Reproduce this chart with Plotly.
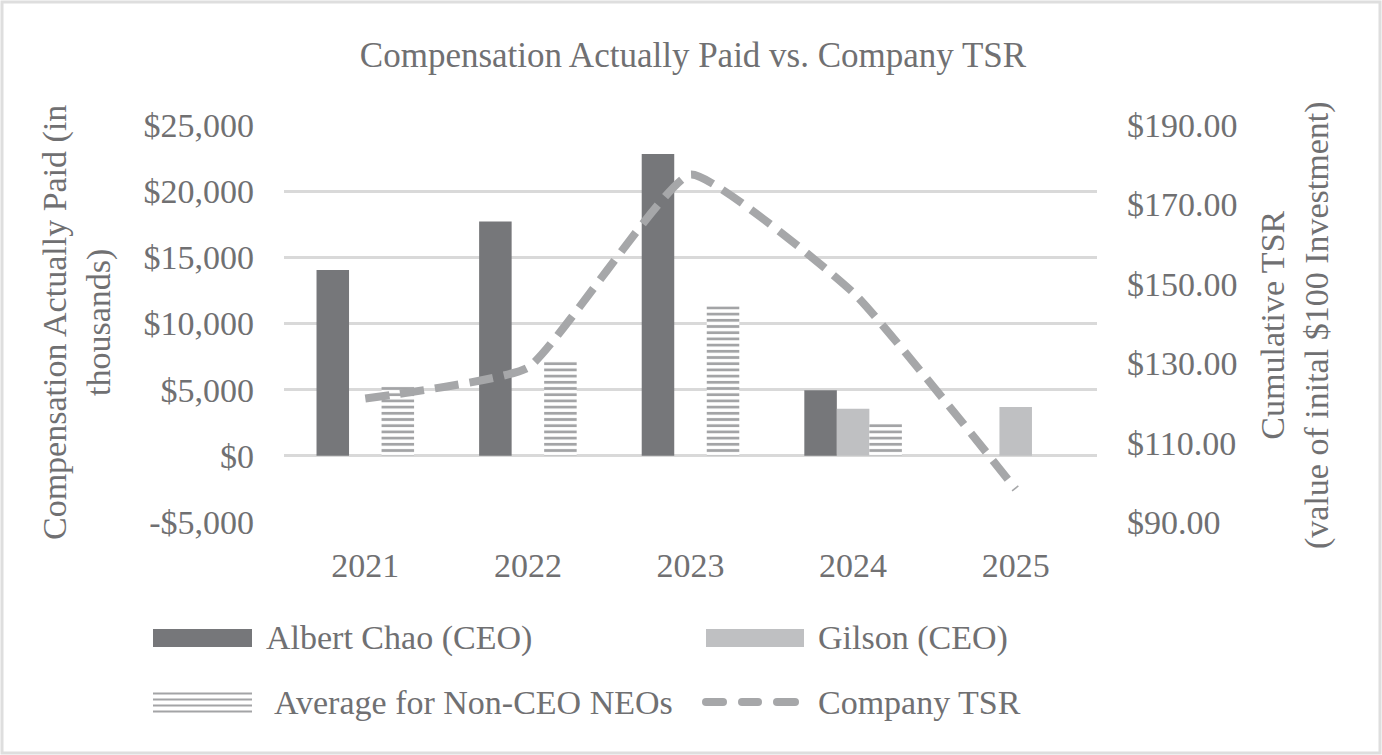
import plotly.graph_objects as go

years = ["2021", "2022", "2023", "2024", "2025"]
albert_chao = [14040, 17700, 22800, 4950, None]
gilson = [None, None, None, 3560, 3690]
non_ceo_avg = [5250, 7150, 11310, 2420, None]
company_tsr = [121.1, 128.9, 177.5, 147.8, 98.3]

left_tickvals = [-5000, 0, 5000, 10000, 15000, 20000, 25000]
left_ticktext = ["-$5,000", "$0", "$5,000", "$10,000", "$15,000", "$20,000", "$25,000"]
right_tickvals = [90, 110, 130, 150, 170, 190]
right_ticktext = ["$90.00", "$110.00", "$130.00", "$150.00", "$170.00", "$190.00"]

W, H = 1382, 755
L, R, T, B = 284, 1097, 125, 522  # plot area in pixels

FONT = "Liberation Serif, Times New Roman, serif"
TXT = "#707072"
C_ALBERT = "#76777a"
C_GILSON = "#bfc0c2"
C_STRIPE = "#a3a4a6"
C_TSR = "#a6a7a9"
C_GRID = "#d9d9d9"


def px(x):
    return (x - L) / (R - L)


def py(y):
    return (B - y) / (B - T)


fig = go.Figure()
fig.add_trace(go.Bar(x=years, y=albert_chao, name="Albert Chao (CEO)",
                     marker=dict(color=C_ALBERT, line=dict(width=0)), showlegend=False))
fig.add_trace(go.Bar(x=years, y=gilson, name="Gilson (CEO)",
                     marker=dict(color=C_GILSON, line=dict(width=0)), showlegend=False))
fig.add_trace(go.Bar(x=years, y=non_ceo_avg, name="Average for Non-CEO NEOs",
                     marker=dict(color="white", line=dict(width=0),
                                 pattern=dict(shape="-", fgcolor=C_STRIPE, bgcolor="white",
                                              size=6.2, solidity=0.45, fillmode="replace")),
                     showlegend=False))
fig.add_trace(go.Scatter(x=years, y=company_tsr, name="Company TSR", yaxis="y2",
                         mode="lines",
                         line=dict(color=C_TSR, width=8, dash="24px,11px", shape="spline", smoothing=0.4),
                         showlegend=False))

shapes = []
# outer border
shapes.append(dict(type="rect", xref="paper", yref="paper",
                   x0=px(2), x1=px(1380), y0=py(753), y1=py(2),
                   line=dict(color="#dedede", width=3), fillcolor="rgba(0,0,0,0)", layer="below"))
# legend swatches
shapes.append(dict(type="rect", xref="paper", yref="paper", x0=px(153), x1=px(252),
                   y0=py(647), y1=py(629), fillcolor=C_ALBERT, line=dict(width=0)))
shapes.append(dict(type="rect", xref="paper", yref="paper", x0=px(706), x1=px(804),
                   y0=py(647), y1=py(629), fillcolor=C_GILSON, line=dict(width=0)))
for yy in [693.5, 699.5, 705.5, 711.5]:
    shapes.append(dict(type="line", xref="paper", yref="paper", x0=px(153), x1=px(252),
                       y0=py(yy), y1=py(yy), line=dict(color=C_STRIPE, width=2.2)))


def dash_path(x1, x2, yc, r=4):
    p = f"M{px(x1)},{py(yc - r)} L{px(x2)},{py(yc - r)} "
    p += f"Q{px(x2 + r)},{py(yc - r)} {px(x2 + r)},{py(yc)} "
    p += f"Q{px(x2 + r)},{py(yc + r)} {px(x2)},{py(yc + r)} "
    p += f"L{px(x1)},{py(yc + r)} "
    p += f"Q{px(x1 - r)},{py(yc + r)} {px(x1 - r)},{py(yc)} "
    p += f"Q{px(x1 - r)},{py(yc - r)} {px(x1)},{py(yc - r)} Z"
    return p


for a, b in [(706, 723), (742, 758), (777, 795)]:
    shapes.append(dict(type="path", xref="paper", yref="paper", path=dash_path(a, b, 702),
                       fillcolor=C_TSR, line=dict(width=0)))

annotations = []
legend_items = [("Albert Chao (CEO)", 264, 638), ("Gilson (CEO)", 816, 638),
                ("Average for Non-CEO NEOs", 272, 702), ("Company TSR", 816, 702)]
for text, x, y in legend_items:
    annotations.append(dict(text=text, xref="paper", yref="paper", x=px(x), y=py(y),
                            xanchor="left", yanchor="middle", showarrow=False,
                            font=dict(family=FONT, size=34, color=TXT)))
annotations.append(dict(text="Compensation Actually Paid (in<br>thousands)", xref="paper", yref="paper",
                        x=px(77), y=py(323), xanchor="center", yanchor="middle", textangle=-90,
                        showarrow=False, font=dict(family=FONT, size=34, color=TXT)))
annotations.append(dict(text="Cumulative TSR<br>(value of inital $100 Investment)", xref="paper", yref="paper",
                        x=px(1295), y=py(325), xanchor="center", yanchor="middle", textangle=-90,
                        showarrow=False, font=dict(family=FONT, size=34, color=TXT)))

fig.update_layout(
    width=W, height=H,
    margin=dict(l=L, r=W - R, t=T, b=H - B, autoexpand=False),
    paper_bgcolor="white", plot_bgcolor="white",
    font=dict(family=FONT, size=34, color=TXT),
    title=dict(text="Compensation Actually Paid vs. Company TSR", x=(693 - 0) / W, xanchor="center",
               y=1 - 55 / H, yanchor="middle", yref="container",
               font=dict(family=FONT, size=35, color=TXT)),
    barmode="group", bargap=0.4, bargroupgap=0,
    showlegend=False,
    xaxis=dict(showgrid=False, showline=False, zeroline=False, ticks="",
               tickfont=dict(family=FONT, size=34, color=TXT), automargin=False,
               ticklabelstandoff=20),
    yaxis=dict(range=[-5000, 25000], tickvals=left_tickvals, ticktext=left_ticktext,
               showgrid=True, gridcolor=C_GRID, gridwidth=2.5, zeroline=True,
               zerolinecolor=C_GRID, zerolinewidth=2.5, showline=False, ticks="",
               tickfont=dict(family=FONT, size=34, color=TXT), automargin=False,
               ticklabelstandoff=29),
    yaxis2=dict(range=[90, 190], tickvals=right_tickvals, ticktext=right_ticktext,
                overlaying="y", side="right", showgrid=False, zeroline=False, showline=False,
                ticks="", tickfont=dict(family=FONT, size=34, color=TXT), automargin=False,
                ticklabelstandoff=29),
    shapes=shapes, annotations=annotations,
)

fig.write_html("out.html", config={"displayModeBar": False},
               post_script="document.body.style.margin='0';document.body.style.overflow='hidden';")
